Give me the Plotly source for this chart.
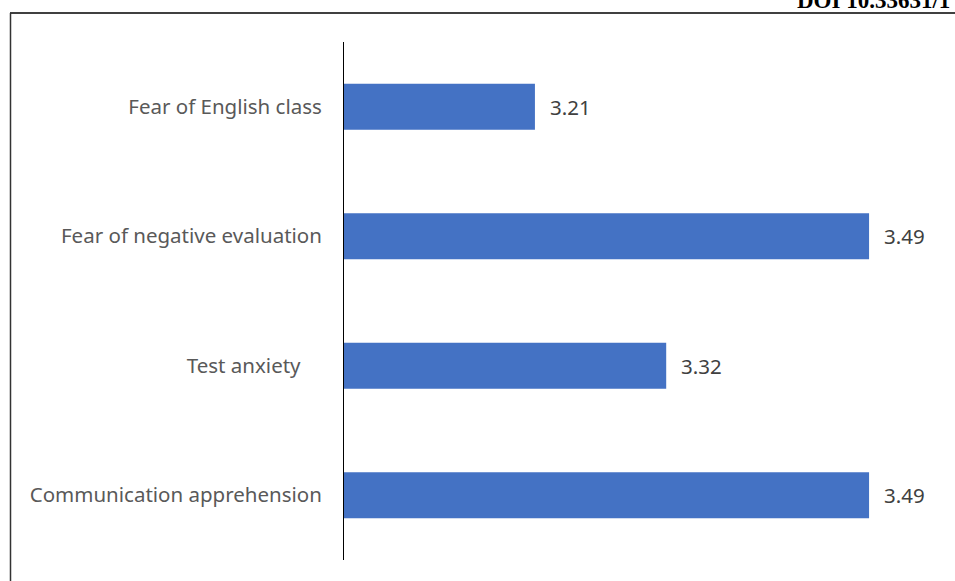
import plotly.graph_objects as go

categories = ["Fear of English class", "Fear of negative evaluation", "Test anxiety", "Communication apprehension"]
tick_labels = ["Fear of English class", "Fear of negative evaluation", "Test anxiety\u00a0\u00a0\u00a0\u00a0", "Communication apprehension"]
values = [3.21, 3.49, 3.32, 3.49]
value_labels = ["3.21", "3.49", "3.32", "3.49"]

W, H = 955, 581
L, R, T, B = 344, 881, 42, 560

def px(x):
    return (x - L) / (R - L)

def py(y):
    return (B - y) / (B - T)

fig = go.Figure(go.Bar(
    y=categories, x=values, orientation="h",
    marker=dict(color="#4472C4", line=dict(width=0)),
    width=0.357, hoverinfo="skip",
))

for c, v, t in zip(categories, values, value_labels):
    fig.add_annotation(x=v, y=c, text=t, showarrow=False, xanchor="left", yanchor="middle",
                       xshift=13, font=dict(family="Noto Sans, Open Sans, sans-serif", size=20.5, color="#404040"))

fig.add_annotation(xref="paper", yref="paper", x=px(795), y=py(15), text="<b>DOI 10.33631/1</b>",
                   showarrow=False, xanchor="left", yanchor="bottom",
                   font=dict(family="Liberation Serif, Times New Roman, serif", size=23, color="#000000"))

# page frame lines
fig.add_shape(type="line", xref="paper", yref="paper", x0=px(10), x1=px(960), y0=py(13), y1=py(13),
              line=dict(color="#000000", width=1.5))
fig.add_shape(type="line", xref="paper", yref="paper", x0=px(10.5), x1=px(10.5), y0=py(13), y1=py(590),
              line=dict(color="#333333", width=1.5))

fig.update_layout(
    width=W, height=H,
    margin=dict(l=L, r=W - R, t=T, b=H - B, pad=0),
    paper_bgcolor="white", plot_bgcolor="white",
    showlegend=False,
    xaxis=dict(range=[3.05, 3.5], showgrid=False, zeroline=False, showticklabels=False, ticks="", showline=False),
    yaxis=dict(categoryorder="array", categoryarray=categories[::-1], autorange=False, range=[-0.5, 3.5],
               tickmode="array", tickvals=categories, ticktext=tick_labels,
               showgrid=False, zeroline=False, showline=True, linecolor="#000000", linewidth=1,
               ticks="outside", ticklen=17, tickcolor="rgba(0,0,0,0)",
               tickfont=dict(family="Noto Sans, Open Sans, sans-serif", size=20.5, color="#595959")),
)

fig.write_html("out.html")
